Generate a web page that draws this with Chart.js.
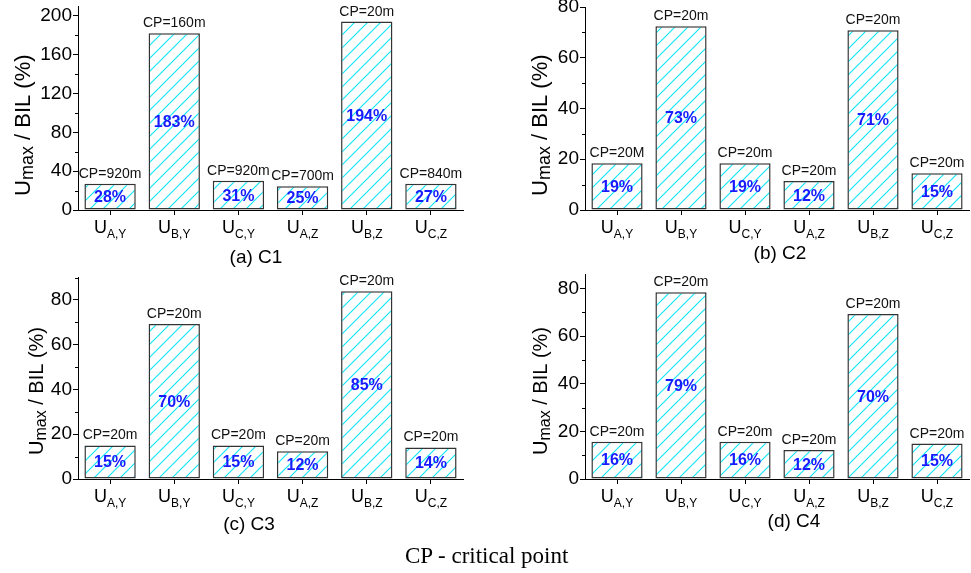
<!DOCTYPE html>
<html>
<head>
<meta charset="utf-8">
<title>Umax / BIL</title>
<script src="https://cdn.jsdelivr.net/npm/chart.js@4.4.1/dist/chart.umd.min.js"></script>
<style>
  html, body { margin: 0; padding: 0; background: #fff; }
  #wrap { position: relative; width: 971px; height: 573px; overflow: hidden; }
  #wrap canvas { position: absolute; left: 0; top: 0; }
  #caption {
    position: absolute; left: 405px; top: 544px;
    font-family: "Liberation Serif", "Times New Roman", serif;
    font-size: 23px; line-height: 23px; white-space: nowrap; color: #000;
  }
</style>
</head>
<body>
<div id="wrap">
  <canvas id="c1" width="971" height="573"></canvas>
  <canvas id="c2" width="971" height="573"></canvas>
  <canvas id="c3" width="971" height="573"></canvas>
  <canvas id="c4" width="971" height="573"></canvas>
  <div id="caption">CP - critical point</div>
</div>
<script>
// categories: U with these subscripts
const categories = ["A,Y", "B,Y", "C,Y", "A,Z", "B,Z", "C,Z"];

// (a) C1
const c1Values = [27, 182, 30, 24.5, 194, 27];
const c1Pct = ["28%", "183%", "31%", "25%", "194%", "27%"];
const c1Cp = ["CP=920m", "CP=160m", "CP=920m", "CP=700m", "CP=20m", "CP=840m"];

// (b) C2
const c2Values = [18.4, 72.4, 18.4, 11.4, 70.8, 14.5];
const c2Pct = ["19%", "73%", "19%", "12%", "71%", "15%"];
const c2Cp = ["CP=20M", "CP=20m", "CP=20m", "CP=20m", "CP=20m", "CP=20m"];

// (c) C3
const c3Values = [15, 69.3, 15, 12.4, 83.9, 14.1];
const c3Pct = ["15%", "70%", "15%", "12%", "85%", "14%"];
const c3Cp = ["CP=20m", "CP=20m", "CP=20m", "CP=20m", "CP=20m", "CP=20m"];

// (d) C4
const c4Values = [15.7, 78.5, 15.7, 12.2, 69.4, 14.9];
const c4Pct = ["16%", "79%", "16%", "12%", "70%", "15%"];
const c4Cp = ["CP=20m", "CP=20m", "CP=20m", "CP=20m", "CP=20m", "CP=20m"];

// y axis: max, major step
const yMax = [210, 80, 90, 86];
const yStep = [40, 20, 20, 20];

const FONT = '"Liberation Sans", Arial, Helvetica, sans-serif';
const W = 971, H = 573;

// hatched fill: cyan "/" lines on white
function makeHatch() {
  const s = 13;
  const c = document.createElement("canvas");
  c.width = s; c.height = s;
  const g = c.getContext("2d");
  g.fillStyle = "#fff";
  g.fillRect(0, 0, s, s);
  g.strokeStyle = "#14e6f8";
  g.lineWidth = 1.2;
  g.beginPath();
  g.moveTo(0, s); g.lineTo(s, 0);
  g.moveTo(-2, 2); g.lineTo(2, -2);
  g.moveTo(s - 2, s + 2); g.lineTo(s + 2, s - 2);
  g.stroke();
  return g.createPattern(c, "repeat");
}
const hatch = makeHatch();

const panels = [
  { id: "c1", values: c1Values, pct: c1Pct, cp: c1Cp, max: yMax[0], step: yStep[0],
    area: { l: 78, t: 6, r: 463, b: 210 }, title: { x: 30, y: 196, f: 22 }, sub: { text: "(a) C1", x: 256, y: 263 } },
  { id: "c2", values: c2Values, pct: c2Pct, cp: c2Cp, max: yMax[1], step: yStep[1],
    area: { l: 585, t: 7, r: 969, b: 210 }, title: { x: 547, y: 196, f: 22 }, sub: { text: "(b) C2", x: 780, y: 259 } },
  { id: "c3", values: c3Values, pct: c3Pct, cp: c3Cp, max: yMax[2], step: yStep[2],
    area: { l: 78, t: 277.6, r: 463, b: 479 }, title: { x: 43, y: 455, f: 20 }, sub: { text: "(c) C3", x: 249, y: 530 } },
  { id: "c4", values: c4Values, pct: c4Pct, cp: c4Cp, max: yMax[3], step: yStep[3],
    area: { l: 585, t: 274.4, r: 969, b: 479 }, title: { x: 547, y: 455, f: 20 }, sub: { text: "(d) C4", x: 794, y: 527 } }
];

// draws minor ticks, x labels with subscripts, bar texts, axis title, panel caption
function makeDecor(panel) {
  return {
    id: "decor",
    afterDraw(chart) {
      const ctx = chart.ctx;
      const xs = chart.scales.x, ys = chart.scales.y;
      ctx.save();

      // minor y ticks
      ctx.strokeStyle = "#000";
      ctx.lineWidth = 1;
      const minor = panel.step / 2;
      for (let v = minor; v <= panel.max; v += minor) {
        if (Math.abs(v % panel.step) < 1e-6) continue;
        const py = Math.round(ys.getPixelForValue(v)) + 0.5;
        ctx.beginPath();
        ctx.moveTo(ys.right, py);
        ctx.lineTo(ys.right - 3, py);
        ctx.stroke();
      }

      // x labels U_sub
      ctx.fillStyle = "#000";
      ctx.textBaseline = "alphabetic";
      ctx.textAlign = "left";
      const base = xs.top;
      categories.forEach((sub, i) => {
        const cx = xs.getPixelForValue(i);
        ctx.font = "18px " + FONT;
        const uw = ctx.measureText("U").width;
        ctx.font = "12px " + FONT;
        const sw = ctx.measureText(sub).width;
        const left = cx - (uw + sw) / 2;
        ctx.font = "18px " + FONT;
        ctx.fillText("U", left, base + 23);
        ctx.font = "12px " + FONT;
        ctx.fillText(sub, left + uw, base + 27.5);
      });

      // texts on bars
      const meta = chart.getDatasetMeta(0);
      meta.data.forEach((bar, i) => {
        ctx.textAlign = "center";
        ctx.fillStyle = "#111";
        ctx.font = "14px " + FONT;
        ctx.textBaseline = "alphabetic";
        ctx.fillText(panel.cp[i], bar.x, bar.y - 6);
        ctx.fillStyle = "#1a1aff";
        ctx.font = "bold 16px " + FONT;
        ctx.textBaseline = "middle";
        ctx.fillText(panel.pct[i], bar.x, (bar.y + bar.base) / 2 + 1);
      });

      // y axis title  U_max / BIL (%)
      const t = panel.title;
      ctx.save();
      ctx.translate(t.x, t.y);
      ctx.rotate(-Math.PI / 2);
      ctx.fillStyle = "#000";
      ctx.textAlign = "left";
      ctx.textBaseline = "alphabetic";
      ctx.font = t.f + "px " + FONT;
      ctx.fillText("U", 0, 0);
      let w = ctx.measureText("U").width;
      ctx.font = Math.round(t.f * 0.8) + "px " + FONT;
      ctx.fillText("max", w, 2.5);
      w += ctx.measureText("max").width;
      ctx.font = t.f + "px " + FONT;
      ctx.fillText(" / BIL (%)", w, 0);
      ctx.restore();

      // panel caption
      ctx.fillStyle = "#000";
      ctx.textAlign = "center";
      ctx.textBaseline = "alphabetic";
      ctx.font = "19px " + FONT;
      ctx.fillText(panel.sub.text, panel.sub.x, panel.sub.y);

      ctx.restore();
    }
  };
}

function buildChart(panel) {
  const yW = 60, xH = 30;
  const a = panel.area;
  new Chart(document.getElementById(panel.id), {
    type: "bar",
    data: {
      labels: categories,
      datasets: [{
        data: panel.values,
        backgroundColor: hatch,
        borderColor: "#333",
        borderWidth: 1.5,
        borderSkipped: false,
        categoryPercentage: 1,
        barPercentage: 0.8
      }]
    },
    options: {
      responsive: false,
      animation: false,
      events: [],
      layout: { padding: { left: a.l - yW, right: W - a.r, top: a.t, bottom: H - a.b - xH } },
      plugins: { legend: { display: false }, tooltip: { enabled: false }, title: { display: false } },
      scales: {
        x: {
          type: "category",
          offset: true,
          grid: { display: true, drawOnChartArea: false, drawTicks: true, tickLength: 5, offset: false, color: "#000", tickColor: "#000" },
          border: { display: true, color: "#000", width: 1 },
          ticks: { display: false },
          afterFit(s) { s.height = xH; s.paddingLeft = 0; s.paddingRight = 0; }
        },
        y: {
          min: 0,
          max: panel.max,
          grid: { display: true, drawOnChartArea: false, drawTicks: true, tickLength: 5, color: "#000", tickColor: "#000" },
          border: { display: true, color: "#000", width: 1 },
          ticks: { stepSize: panel.step, includeBounds: false, color: "#000", padding: 1, font: { family: FONT, size: 19 } },
          afterFit(s) { s.width = yW; s.paddingTop = 0; s.paddingBottom = 0; }
        }
      }
    },
    plugins: [makeDecor(panel)]
  });
}

panels.forEach(buildChart);
</script>
</body>
</html>
